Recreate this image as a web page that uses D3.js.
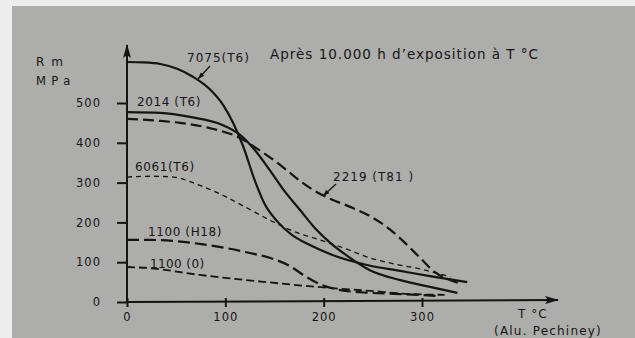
<!DOCTYPE html>
<html>
<head>
<meta charset="utf-8">
<script src="https://cdn.jsdelivr.net/npm/d3@7"></script>
<style>
  html, body { margin: 0; padding: 0; background: #ededed; }
  svg { display: block; }
  text { font-family: "DejaVu Sans", sans-serif; fill: #151515; }
</style>
</head>
<body>
<script>
// temperatures (°C) and Rm (MPa)
const s7075 = [[0,603],[17,602],[34,598],[51,586],[67,566],[84,535],[98,494],[108,450],[118,392],[130,305],[140,246],[153,202],[168,168],[186,143],[209,118],[244,93],[278,78],[308,65],[346,50]];
const s2014 = [[0,477],[34,475],[64,465],[97,445],[115,420],[130,382],[145,332],[160,279],[176,231],[191,186],[207,148],[224,116],[247,80],[278,55],[308,38],[336,23]];
const s2219 = [[0,460],[34,455],[54,450],[84,437],[115,412],[130,389],[145,364],[161,334],[176,304],[191,279],[207,259],[227,239],[247,216],[268,181],[283,148],[298,111],[313,75],[329,55],[341,45]];
const s6061 = [[0,314],[23,316],[47,314],[71,296],[95,271],[120,239],[145,206],[169,178],[196,156],[220,136],[247,111],[273,95],[298,83],[329,63]];
const s1100h18 = [[0,156],[23,156],[49,153],[74,146],[100,136],[125,123],[145,111],[166,90],[181,65],[196,45],[217,30],[247,23],[278,20],[318,15]];
const s1100o = [[0,88],[23,85],[74,68],[142,50],[193,38],[247,28],[288,20],[323,18]];

const yTicks = [0, 100, 200, 300, 400, 500];
const xTicks = [0, 100, 200, 300];

const W = 635, H = 338;
const svg = d3.select('body').append('svg')
  .attr('width', W).attr('height', H);

// photo background
svg.append('rect').attr('x', 12).attr('y', 6).attr('width', W - 12).attr('height', H - 6)
  .attr('fill', '#adadab');

const x = d3.scaleLinear().domain([0, 300]).range([127, 422]);
const y = d3.scaleLinear().domain([0, 500]).range([302, 103]);

const ink = '#141414';

// axes with arrows
const defs = svg.append('defs');
defs.append('marker').attr('id', 'arr')
  .attr('viewBox', '0 0 14 8').attr('refX', 13).attr('refY', 4)
  .attr('markerWidth', 14).attr('markerHeight', 8)
  .attr('markerUnits', 'userSpaceOnUse').attr('orient', 'auto')
  .append('path').attr('d', 'M0,0 L14,4 L0,8 L3,4 Z').attr('fill', ink);

svg.append('line')
  .attr('x1', x(0)).attr('y1', y(0)).attr('x2', x(0)).attr('y2', 45)
  .attr('stroke', ink).attr('stroke-width', 2).attr('marker-end', 'url(#arr)');
svg.append('line')
  .attr('x1', x(0)).attr('y1', y(0)).attr('x2', 558).attr('y2', y(0) - 2)
  .attr('stroke', ink).attr('stroke-width', 2).attr('marker-end', 'url(#arr)');

const gy = svg.append('g')
  .attr('transform', `translate(${x(0)},0)`)
  .call(d3.axisLeft(y).tickValues(yTicks).tickSize(11).tickPadding(4).tickFormat(d3.format('d')));
gy.select('.domain').remove();
gy.selectAll('.tick line').attr('stroke', ink).attr('stroke-width', 2).attr('transform', 'translate(1,0)');
gy.selectAll('.tick text').attr('font-size', 11.5).attr('letter-spacing', 1)
  .style('font-family', '"DejaVu Sans", sans-serif').attr('fill', ink).attr('x', -26);

const gx = svg.append('g')
  .attr('transform', `translate(0,${y(0)})`)
  .call(d3.axisBottom(x).tickValues(xTicks).tickSize(9).tickPadding(4).tickFormat(d3.format('d')));
gx.select('.domain').remove();
gx.selectAll('.tick line').attr('stroke', ink).attr('stroke-width', 2).attr('transform', 'translate(0,-4)');
gx.selectAll('.tick text').attr('font-size', 11.5).attr('letter-spacing', 1)
  .style('font-family', '"DejaVu Sans", sans-serif').attr('fill', ink).attr('y', 11);

// curves
const line = d3.line()
  .x(d => x(d[0])).y(d => y(d[1]))
  .curve(d3.curveMonotoneX);

const series = [
  { data: s7075, w: 2.2, dash: null },
  { data: s2014, w: 2.2, dash: null },
  { data: s2219, w: 2.2, dash: '11,5' },
  { data: s6061, w: 1.3, dash: '5,4' },
  { data: s1100h18, w: 2.2, dash: '12,5' },
  { data: s1100o, w: 1.8, dash: '8,4' }
];
series.forEach(s => {
  svg.append('path').datum(s.data)
    .attr('fill', 'none').attr('stroke', ink)
    .attr('stroke-width', s.w)
    .attr('stroke-dasharray', s.dash)
    .attr('d', line);
});

// texts
function txt(t, px, py, size, ls) {
  svg.append('text').attr('x', px).attr('y', py)
    .attr('font-size', size)
    .attr('dominant-baseline', 'middle').attr('letter-spacing', ls)
    .text(t);
}
txt('R m', 36, 62, 12, 1.5);
txt('M P a', 36, 81, 11.5, 0.8);
txt('Après 10.000 h d\u2019exposition à T °C', 270, 55, 13.5, 1);
txt('7075(T6)', 187, 58, 12, 1);
txt('2014 (T6)', 137, 102, 12, 0.6);
txt('6061(T6)', 135, 167, 12, 0.6);
txt('1100 (H18)', 148, 232, 12, 0.6);
txt('1100 (0)', 150, 264, 12, 0.4);
txt('2219 (T81 )', 333, 177, 12, 1);
txt('T °C', 518, 314, 12, 1);
txt('(Alu. Pechiney)', 494, 331, 12, 1.2);

// label arrows
function pointer(x1, y1, x2, y2) {
  svg.append('line').attr('x1', x1).attr('y1', y1).attr('x2', x2).attr('y2', y2)
    .attr('stroke', ink).attr('stroke-width', 1.3);
  const a = Math.atan2(y2 - y1, x2 - x1);
  const p = [[x2, y2],
    [x2 - 7 * Math.cos(a - 0.35), y2 - 7 * Math.sin(a - 0.35)],
    [x2 - 7 * Math.cos(a + 0.35), y2 - 7 * Math.sin(a + 0.35)]];
  svg.append('path').attr('d', 'M' + p.join('L') + 'Z').attr('fill', ink);
}
pointer(210, 66, 198, 79);
pointer(336, 184, 323, 196);
</script>
</body>
</html>
